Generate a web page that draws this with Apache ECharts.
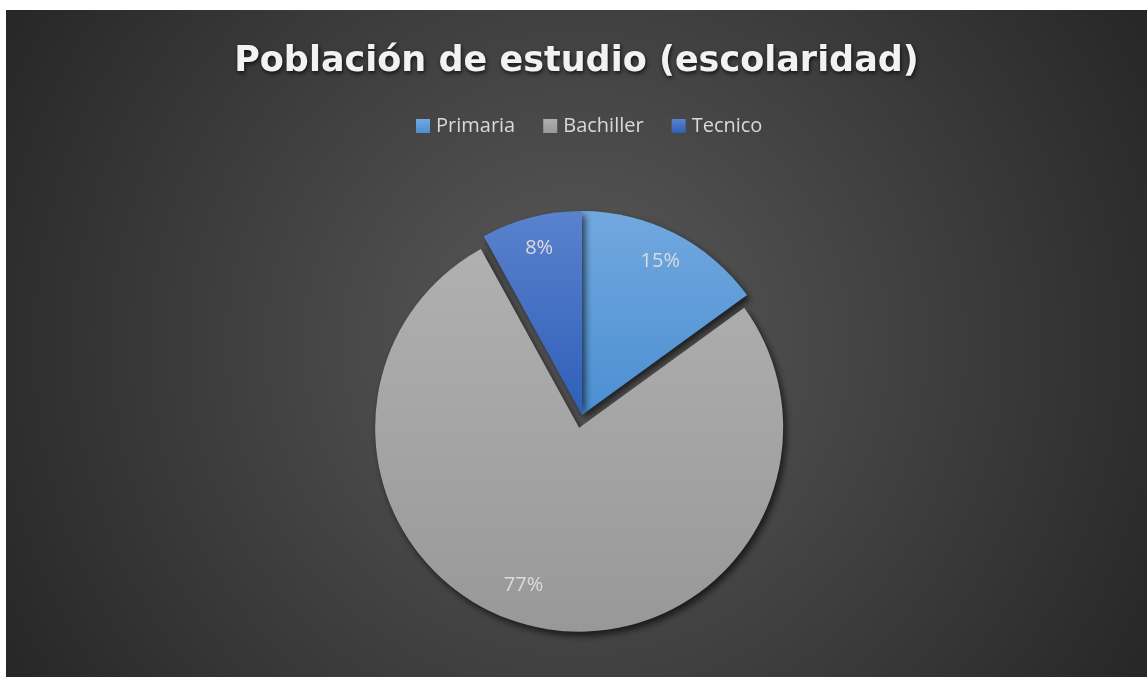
<!DOCTYPE html>
<html>
<head>
<meta charset="utf-8">
<script src="https://cdn.jsdelivr.net/npm/echarts@6/dist/echarts.min.js"></script>
<style>
html,body{margin:0;padding:0;background:#ffffff;width:1147px;height:677px;overflow:hidden;}
#chart{position:absolute;left:6px;top:10px;width:1141px;height:667px;}
</style>
</head>
<body>
<div id="chart"></div>
<script>
const titleText = 'Población de estudio (escolaridad)';
const categories = ['Primaria', 'Bachiller', 'Tecnico'];
const values = [15, 77, 8];
const explodedCategory = 'Bachiller';

const topColors = ['#72a8df', '#b0b0b0', '#5a82cd'];
const bottomColors = ['#4b8fd2', '#989898', '#2f5fb9'];
// small label nudges to mimic the original's label placement
const labelNudge = [[0, 0], [-18, -11], [0, 0]];

function grad(i) {
  return {
    type: 'linear', x: 0, y: 0, x2: 0, y2: 1,
    colorStops: [{offset: 0, color: topColors[i]}, {offset: 1, color: bottomColors[i]}]
  };
}

const mainData = categories.map((c, i) => ({
  name: c, value: values[i], selected: c === explodedCategory,
  itemStyle: {color: grad(i)}
}));
const labelData = categories.map((c, i) => ({
  name: c, value: values[i], selected: c === explodedCategory
}));

const chart = echarts.init(document.getElementById('chart'), null, {renderer: 'canvas'});
const R = 204;
const C = [576, 405];
const OFF = 13;
chart.setOption({
  backgroundColor: {
    type: 'radial', x: 0.5, y: 0.5, r: 1.0,
    colorStops: [{offset: 0, color: '#5a5a5a'}, {offset: 1, color: '#262626'}]
  },
  animation: false,
  title: {
    text: titleText,
    left: 'center', top: 27,
    textStyle: {
      fontFamily: 'DejaVu Sans', fontWeight: 'bold', fontSize: 35, color: '#f2f2f2',
      lineHeight: 40,
      textShadowColor: 'rgba(0,0,0,0.75)', textShadowBlur: 4, textShadowOffsetX: 1, textShadowOffsetY: 2
    }
  },
  legend: {
    data: categories,
    top: 101, left: 405,
    icon: 'rect', itemWidth: 14, itemHeight: 14, itemGap: 28,
    selectedMode: false,
    textStyle: {fontFamily: 'Open Sans', fontSize: 20, color: '#d9d9d9', padding: [0, 0, 0, 1]}
  },
  series: [
    {
      type: 'pie',
      center: C, radius: [0, R],
      startAngle: 90, clockwise: true,
      selectedMode: 'multiple', selectedOffset: OFF,
      percentPrecision: 0,
      silent: true,
      label: {show: false},
      labelLine: {show: false},
      itemStyle: {
        shadowColor: 'rgba(0,0,0,0.65)', shadowBlur: 7, shadowOffsetX: 3, shadowOffsetY: 4
      },
      data: mainData
    },
    {
      type: 'pie',
      center: C, radius: [R * 0.66, R],
      startAngle: 90, clockwise: true,
      selectedMode: 'multiple', selectedOffset: OFF,
      percentPrecision: 0,
      silent: true,
      legendHoverLink: false,
      itemStyle: {color: 'rgba(0,0,0,0)'},
      label: {
        show: true, position: 'inside', formatter: '{d}%',
        fontFamily: 'Open Sans', fontSize: 20, color: '#dcdcdc'
      },
      labelLayout: function (p) {
        const n = labelNudge[p.dataIndex] || [0, 0];
        return {dx: n[0], dy: n[1]};
      },
      labelLine: {show: false},
      data: labelData
    }
  ]
});
</script>
</body>
</html>
